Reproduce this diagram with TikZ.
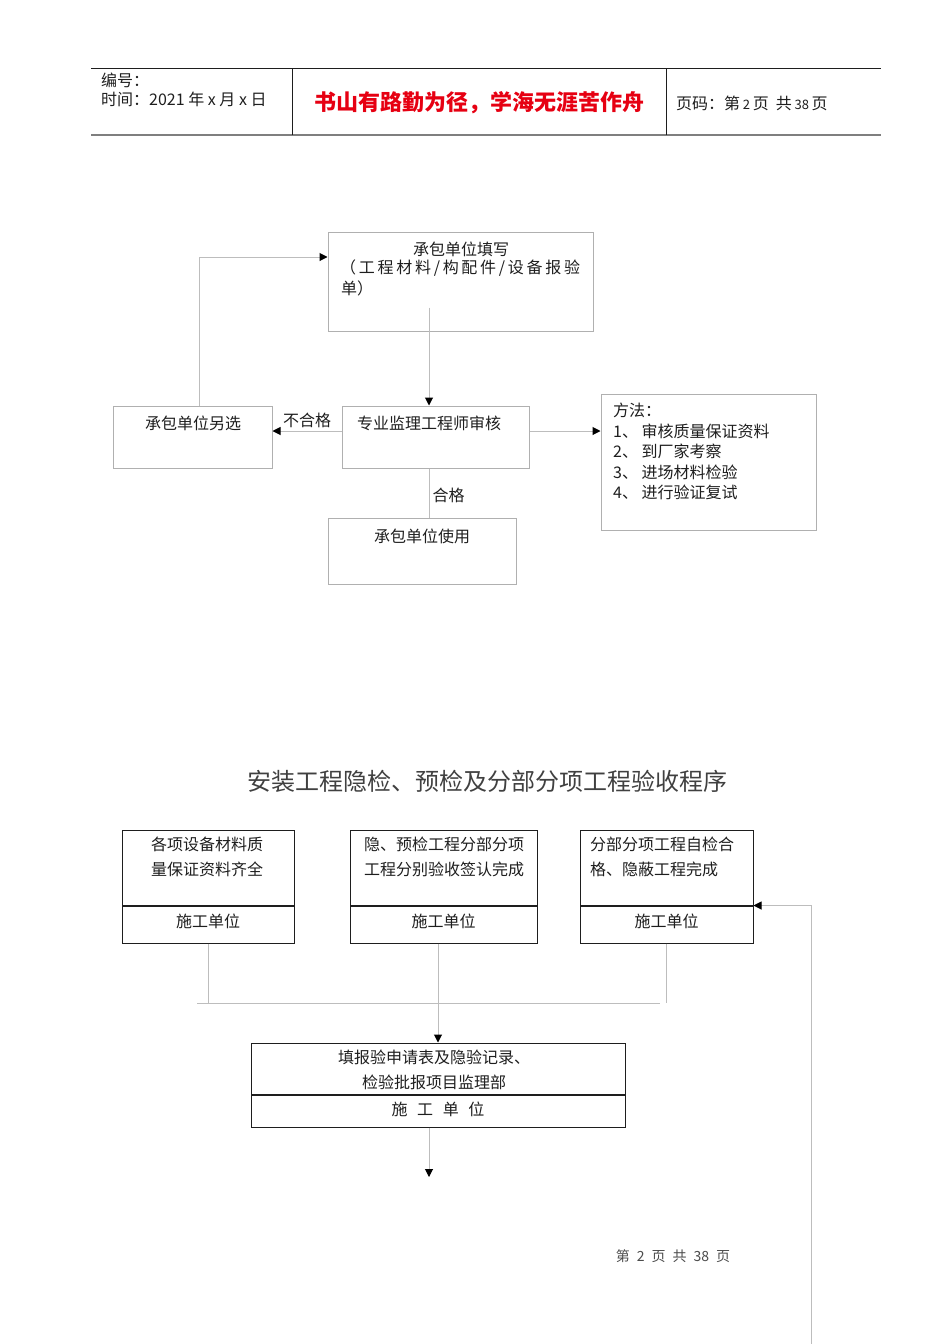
\documentclass[tikz,border=0pt]{standalone}
\usepackage{fontspec}
\setmainfont{Noto Sans CJK SC}
\usepackage{xcolor}
\usetikzlibrary{positioning,arrows.meta}
\definecolor{lineGray}{HTML}{BDBDBD}
\definecolor{boxGray}{HTML}{B0B0B0}
\definecolor{ruleGray}{HTML}{7F7F7F}
\definecolor{textDark}{HTML}{1E1E1E}
\definecolor{titleRed}{HTML}{E60012}

\begin{document}
\begin{tikzpicture}[x=1pt, y=-1pt,
  every node/.style={font=\fontsize{16}{20}\selectfont, text=textDark, inner sep=0pt},
  pbox/.style 2 args={draw=boxGray, line width=1pt, minimum width=#1pt, minimum height=#2pt},
  sbox/.style 2 args={draw=textDark, line width=1pt, minimum width=#1pt, minimum height=#2pt},
  conn/.style={lineGray, line width=1pt},
  arr/.style={conn, -{Triangle[color=black, length=8pt, width=8pt]}},
  small/.style={font=\fontsize{16}{18}\selectfont},
]
\useasboundingbox (0,0) rectangle (950,1344);

% Header table
\draw[textDark, line width=1pt] (91,68) -- (881,68);
\draw[ruleGray, line width=2pt] (91,135) -- (881,135);
\draw[textDark, line width=0.8pt] (292,68) -- (292,135);
\draw[textDark, line width=0.8pt] (666,68) -- (666,135);
\node[small, anchor=west] (hnum) at (101,80) {编号：};
\node[small, anchor=west] (htime) at (101,99) {时间：2021 年 x 月 x 日};
\node[font=\fontsize{22}{26}\selectfont\bfseries, text=titleRed] (hmotto) at (479,103) {书山有路勤为径，学海无涯苦作舟};
\node[small, anchor=west] (hpage) at (676,103) {页码：第\,{\fontsize{13}{14}\selectfont 2}\,页 \ 共\,{\fontsize{13}{14}\selectfont 38}\,页};

% Material check flow
\node[pbox={265}{99}] (fill) at (460.5,281.5) {};
\node (filltxt) at (461,249) {承包单位填写};
\node[anchor=west] (filltxt2) at (340,268) {\addfontfeature{LetterSpace=17}（工程材料/构配件/设备报验};
\node[anchor=west] (filltxt3) at (341,288) {单）};

\node[pbox={187}{62}] (review) at (435.5,437) {};
\node (reviewtxt) at (429,423) {专业监理工程师审核};

\node[pbox={159}{62}] (other) at (192.5,437) {};
\node (othertxt) at (193,423) {承包单位另选};

\node[pbox={215}{136}] (method) at (708.5,462) {};
\node[anchor=north west, align=left, font=\fontsize{16}{20.5}\selectfont] (methodtxt) at (613,403)
  {方法：\\1、 审核质量保证资料\\2、 到厂家考察\\3、 进场材料检验\\4、 进行验证复试};

\node[pbox={188}{66}] (use) at (422,551) {};
\node (usetxt) at (422,536) {承包单位使用};

% Connectors
\draw[arr] ([xshift=-31.5pt, yshift=24pt]fill.south) -- ([xshift=-6.5pt]review.north);
\draw[arr] ([yshift=6pt]review.west) -- node[above=3pt] {不合格} ([yshift=6pt]other.east);
\draw[arr] ([xshift=6.5pt]other.north) |- ([yshift=24.5pt]fill.west);
\draw[arr] ([yshift=6pt]review.east) -- ([yshift=31pt]method.west);
\draw[conn] ([xshift=-6.5pt]review.south) -- node[right=3pt, pos=0.55] {合格} ([xshift=7pt]use.north);

% Title
\node[font=\fontsize{24}{28}\selectfont, text=textDark!85] (title) at (487,781) {安装工程隐检、预检及分部分项工程验收程序};

% Acceptance flow
\node[sbox={172}{75}] (doc) at (208,867.5) {};
\node[sbox={172}{37}, below=0pt of doc] (docunit) {\raisebox{8pt}{施工单位}};
\node[align=center, font=\fontsize{16}{25}\selectfont] (doctxt) at (207,856.5) {各项设备材料质\\量保证资料齐全};

\node[sbox={187}{75}] (sign) at (443.5,867.5) {};
\node[sbox={187}{37}, below=0pt of sign] (signunit) {\raisebox{8pt}{施工单位}};
\node[align=center, font=\fontsize{16}{25}\selectfont] (signtxt) at (444,856.5) {隐、预检工程分部分项\\工程分别验收签认完成};

\node[sbox={173}{75}] (self) at (666.5,867.5) {};
\node[sbox={173}{37}, below=0pt of self] (selfunit) {\raisebox{8pt}{施工单位}};
\node[align=left, anchor=west, font=\fontsize{16}{25}\selectfont] (selftxt) at (590,856.5) {分部分项工程自检合\\格、隐蔽工程完成};

\node[sbox={374}{51}] (apply) at (438,1068.5) {};
\node[sbox={374}{32}, below=0pt of apply] (applyunit) {\raisebox{4pt}{施\hspace{0.6em}工\hspace{0.6em}单\hspace{0.6em}位}};
\node[align=center, font=\fontsize{16}{25}\selectfont] (applytxt) at (434,1069.5) {填报验申请表及隐验记录、\\检验批报项目监理部};

% Merge lines
\coordinate (mergeL) at (197,1003);
\coordinate (mergeR) at (660,1003);
\coordinate (next) at (429,1177);
\coordinate (loop) at (811,1344);
\draw[conn] (mergeL) -- (mergeR);
\draw[conn] (docunit.south) -- (docunit.south |- mergeL);
\draw[conn] (selfunit.south) -- (selfunit.south |- mergeL);
\draw[arr] ([xshift=-5.5pt]signunit.south) -- (apply.north);
\draw[arr] ([xshift=-9pt]applyunit.south) -- (next);
\draw[arr] (loop) |- (selfunit.north east);

% Footer
\node[font=\fontsize{14}{16}\selectfont, text=textDark!80] (footer) at (673,1256) {第\enspace 2\enspace 页\enspace 共\enspace 38\enspace 页};

\end{tikzpicture}
\end{document}
